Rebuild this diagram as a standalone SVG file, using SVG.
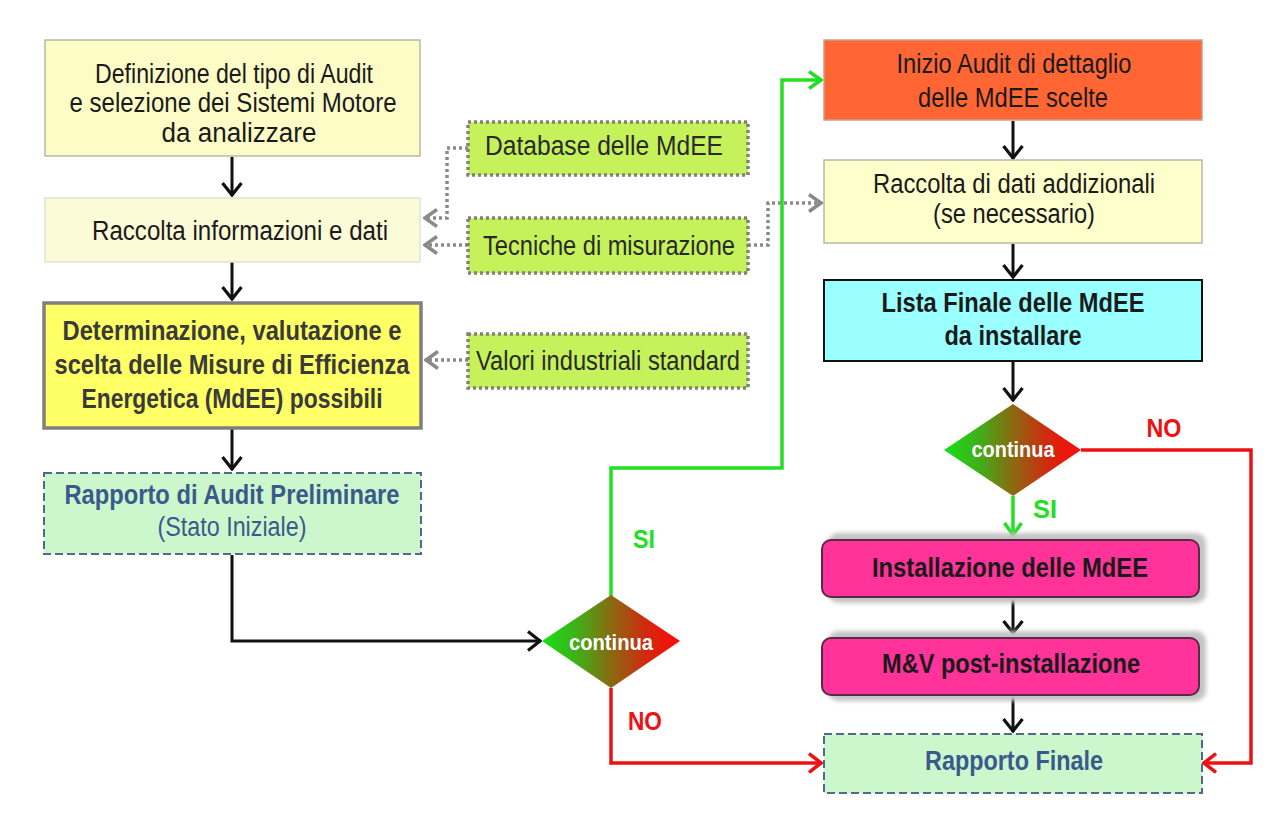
<svg xmlns="http://www.w3.org/2000/svg" width="1276" height="822" viewBox="0 0 1276 822">
<defs>
<style>
text{font-family:"Liberation Sans",Arial,sans-serif;text-anchor:middle}
.t{font-size:27px;fill:#1a1a1a}
.tb{font-size:27px;font-weight:bold;fill:#1a1a1a}
.dg{fill:#3a3a3a}
.blue{fill:#3a5a8c}
.g{font-size:27px;fill:#2a2a2a}
.lbl{font-size:26px;font-weight:bold}
.dia{font-size:22px;font-weight:bold;fill:#ffffff}
.blk{fill:none;stroke:#111;stroke-width:3}
.grn{fill:none;stroke:#22e022;stroke-width:3.5}
.red{fill:none;stroke:#ee1111;stroke-width:3.5}
.dot{fill:none;stroke:#8a8a8a;stroke-width:3.5;stroke-dasharray:3 3}
.gbox{fill:#c5f25a;stroke:#808080;stroke-width:3.5;stroke-dasharray:3 3}
.dash{fill:#ccf7cc;stroke:#4f6a8a;stroke-width:2;stroke-dasharray:8 4}
.mag{fill:#ff3399;stroke:#5a2a45;stroke-width:2}
</style>
<marker id="ab" viewBox="0 0 15 22" refX="14" refY="11" markerWidth="15" markerHeight="22" markerUnits="userSpaceOnUse" orient="auto"><path d="M1,1.5 L13,11 L1,20.5" fill="none" stroke="#111" stroke-width="3.2"/></marker>
<marker id="ag" viewBox="0 0 15 20" refX="14" refY="10" markerWidth="15" markerHeight="20" markerUnits="userSpaceOnUse" orient="auto"><path d="M1,1.5 L13,10 L1,18.5" fill="none" stroke="#22e022" stroke-width="3.5"/></marker>
<marker id="ar" viewBox="0 0 15 22" refX="14" refY="11" markerWidth="15" markerHeight="22" markerUnits="userSpaceOnUse" orient="auto"><path d="M1,1.5 L13,11 L1,20.5" fill="none" stroke="#ee1111" stroke-width="3.5"/></marker>
<marker id="ay" viewBox="0 0 15 20" refX="14" refY="10" markerWidth="15" markerHeight="20" markerUnits="userSpaceOnUse" orient="auto"><path d="M1,1.5 L13,10 L1,18.5" fill="none" stroke="#8a8a8a" stroke-width="3.5"/></marker>
<linearGradient id="dg" x1="0" y1="0" x2="1" y2="0">
<stop offset="0" stop-color="#16e016"/>
<stop offset="0.25" stop-color="#3fb01a"/>
<stop offset="0.5" stop-color="#8a6a10"/>
<stop offset="0.75" stop-color="#d02a10"/>
<stop offset="1" stop-color="#ff0a0a"/>
</linearGradient>
<filter id="sh" x="-10%" y="-30%" width="120%" height="160%"><feGaussianBlur stdDeviation="2"/></filter>
</defs>
<rect width="1276" height="822" fill="#ffffff"/>

<g id="connectors">
<path class="blk" d="M232,157 V196" marker-end="url(#ab)"/>
<path class="blk" d="M232,262 V300" marker-end="url(#ab)"/>
<path class="blk" d="M232,429 V470" marker-end="url(#ab)"/>
<path class="blk" d="M232,555 V641 H541" marker-end="url(#ab)"/>
<path class="grn" d="M611,596 V468 H782 V80 H822" marker-end="url(#ag)"/>
<path class="red" d="M611,688 V763 H822" marker-end="url(#ar)"/>
<path class="dot" d="M468,148 H447 V218 H424" marker-end="url(#ay)"/>
<path class="dot" d="M468,245 H424" marker-end="url(#ay)"/>
<path class="dot" d="M748,245 H768 V203 H822" marker-end="url(#ay)"/>
<path class="dot" d="M468,360 H425" marker-end="url(#ay)"/>
<path class="blk" d="M1013,121 V159" marker-end="url(#ab)"/>
<path class="blk" d="M1013,244 V278" marker-end="url(#ab)"/>
<path class="blk" d="M1013,362 V401" marker-end="url(#ab)"/>
<path class="grn" d="M1013,496 V536" marker-end="url(#ag)"/>
<path class="red" d="M1081,450 H1251 V763 H1203" marker-end="url(#ar)"/>
<path class="blk" d="M1013,598 V634" marker-end="url(#ab)"/>
<path class="blk" d="M1013,696 V732" marker-end="url(#ab)"/>
<text class="lbl" x="644" y="548" fill="#22e022" textLength="22" lengthAdjust="spacingAndGlyphs">SI</text>
<text class="lbl" x="645" y="730" fill="#ee1111" textLength="34" lengthAdjust="spacingAndGlyphs">NO</text>
<text class="lbl" x="1164" y="437" fill="#ee1111" textLength="35" lengthAdjust="spacingAndGlyphs">NO</text>
<text class="lbl" x="1045" y="518" fill="#22e022" textLength="24" lengthAdjust="spacingAndGlyphs">SI</text>
</g>

<g id="n-definizione">
<rect x="45" y="40" width="375" height="116" fill="#fdfcc6" stroke="#b8b8a8" stroke-width="1.5"/>
<text class="t" x="234" y="83" textLength="278" lengthAdjust="spacingAndGlyphs">Definizione del tipo di Audit</text>
<text class="t" x="233" y="112" textLength="327" lengthAdjust="spacingAndGlyphs">e selezione dei Sistemi Motore</text>
<text class="t" x="239" y="142" textLength="155" lengthAdjust="spacingAndGlyphs">da analizzare</text>
</g>

<g id="n-raccolta">
<rect x="45" y="198" width="375" height="64" fill="#fcfbd8" stroke="#e2e2d2" stroke-width="1.5"/>
<text class="t" x="240" y="240" textLength="296" lengthAdjust="spacingAndGlyphs">Raccolta informazioni e dati</text>
</g>

<g id="n-determinazione">
<rect x="44" y="303" width="377" height="125" fill="#ffff66" stroke="#7f7f7f" stroke-width="3.5"/>
<text class="tb dg" x="232" y="340" textLength="339" lengthAdjust="spacingAndGlyphs">Determinazione, valutazione e</text>
<text class="tb dg" x="232" y="374" textLength="355" lengthAdjust="spacingAndGlyphs">scelta delle Misure di Efficienza</text>
<text class="tb dg" x="232" y="408" textLength="301" lengthAdjust="spacingAndGlyphs">Energetica (MdEE) possibili</text>
</g>

<g id="n-rapporto-preliminare">
<rect class="dash" x="44" y="473" width="377" height="81"/>
<text class="tb blue" x="232" y="504" textLength="335" lengthAdjust="spacingAndGlyphs">Rapporto di Audit Preliminare</text>
<text class="t blue" x="232" y="536" textLength="149" lengthAdjust="spacingAndGlyphs">(Stato Iniziale)</text>
</g>

<g id="n-database">
<rect class="gbox" x="468" y="122" width="280" height="53"/>
<text class="g" x="604" y="155" textLength="238" lengthAdjust="spacingAndGlyphs">Database delle MdEE</text>
</g>

<g id="n-tecniche">
<rect class="gbox" x="468" y="218" width="280" height="55"/>
<text class="g" x="609" y="255" textLength="252" lengthAdjust="spacingAndGlyphs">Tecniche di misurazione</text>
</g>

<g id="n-valori">
<rect class="gbox" x="468" y="334" width="280" height="54"/>
<text class="g" x="608" y="370" textLength="264" lengthAdjust="spacingAndGlyphs">Valori industriali standard</text>
</g>

<g id="n-continua1">
<polygon points="542,641 611,595 680,641 611,688" fill="url(#dg)"/>
<text class="dia" x="611" y="650" textLength="84" lengthAdjust="spacingAndGlyphs">continua</text>
</g>

<g id="n-inizio">
<rect x="824" y="40" width="378" height="80" fill="#ff6633" stroke="#c8a090" stroke-width="1.5"/>
<text class="t" x="1014" y="73" textLength="235" lengthAdjust="spacingAndGlyphs">Inizio Audit di dettaglio</text>
<text class="t" x="1013" y="107" textLength="190" lengthAdjust="spacingAndGlyphs">delle MdEE scelte</text>
</g>

<g id="n-raccolta-add">
<rect x="824" y="160" width="378" height="83" fill="#ffffcc" stroke="#b8b8a8" stroke-width="1.5"/>
<text class="t" x="1014" y="193" textLength="282" lengthAdjust="spacingAndGlyphs">Raccolta di dati addizionali</text>
<text class="t" x="1014" y="223" textLength="162" lengthAdjust="spacingAndGlyphs">(se necessario)</text>
</g>

<g id="n-lista">
<rect x="824" y="280" width="378" height="81" fill="#99ffff" stroke="#111" stroke-width="2"/>
<text class="tb" x="1013" y="312" textLength="263" lengthAdjust="spacingAndGlyphs">Lista Finale delle MdEE</text>
<text class="tb" x="1013" y="345" textLength="137" lengthAdjust="spacingAndGlyphs">da installare</text>
</g>

<g id="n-continua2">
<polygon points="944,450 1013,404 1081,450 1013,496" fill="url(#dg)"/>
<text class="dia" x="1013" y="457" textLength="83" lengthAdjust="spacingAndGlyphs">continua</text>
</g>

<g id="n-installazione">
<rect x="828" y="533" width="378" height="70" rx="10" fill="#c4c4c4" filter="url(#sh)"/>
<rect class="mag" x="822" y="540" width="377" height="57" rx="9"/>
<text class="tb" x="1010" y="577" textLength="276" lengthAdjust="spacingAndGlyphs">Installazione delle MdEE</text>
</g>

<g id="n-mv">
<rect x="828" y="631" width="378" height="70" rx="10" fill="#c4c4c4" filter="url(#sh)"/>
<rect class="mag" x="822" y="638" width="377" height="57" rx="9"/>
<text class="tb" x="1011" y="673" textLength="258" lengthAdjust="spacingAndGlyphs">M&amp;V post-installazione</text>
</g>

<g id="n-rapporto-finale">
<rect class="dash" x="824" y="734" width="378" height="59"/>
<text class="tb blue" x="1014" y="770" textLength="178" lengthAdjust="spacingAndGlyphs">Rapporto Finale</text>
</g>
</svg>
